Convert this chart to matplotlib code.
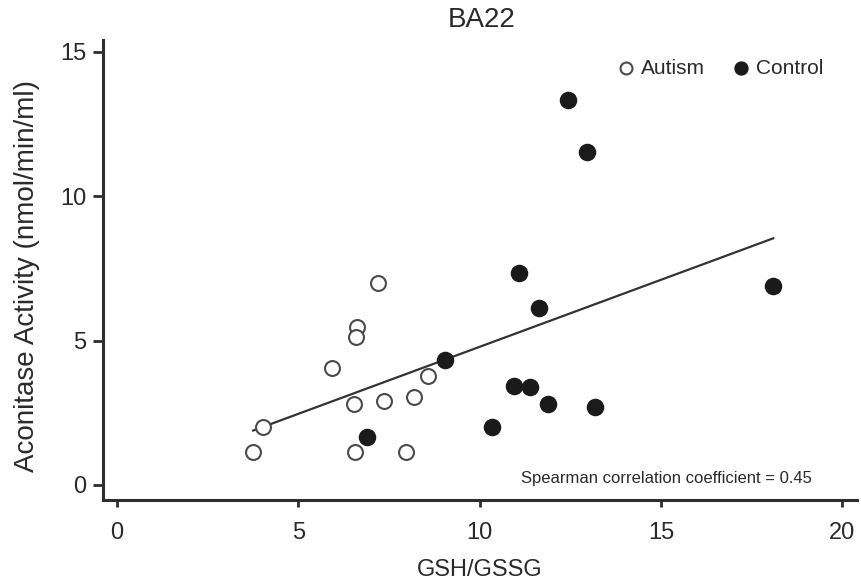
import numpy as np
import matplotlib
matplotlib.use("Agg")
import matplotlib.pyplot as plt

# Data
autism_x = [3.75, 4.03, 5.93, 7.19, 6.60, 6.58, 6.52, 6.55, 7.35, 8.18, 8.57, 7.97]
autism_y = [1.15, 2.02, 4.04, 6.99, 5.48, 5.12, 2.80, 1.15, 2.89, 3.06, 3.78, 1.13]
control_x = [6.90, 9.03, 11.09, 11.62, 10.94, 11.39, 11.89, 13.18, 10.34, 18.09, 12.42, 12.96]
control_y = [1.65, 4.33, 7.33, 6.12, 3.44, 3.38, 2.81, 2.69, 2.02, 6.89, 13.31, 11.51]
x_ticks = [0, 5, 10, 15, 20]
y_ticks = [0, 5, 10, 15]
title = "BA22"
xlabel = "GSH/GSSG"
ylabel = "Aconitase Activity (nmol/min/ml)"
annotation = "Spearman correlation coefficient = 0.45"

plt.rcParams['font.family'] = ['Liberation Sans', 'DejaVu Sans']

W, H = 861, 583
fig = plt.figure(figsize=(W / 100, H / 100), dpi=100)
L, R, T, B = 103, 857, 40, 500
ax = fig.add_axes([L / W, 1 - B / H, (R - L) / W, (B - T) / H])

axis_col = '#2e2e2e'
text_col = '#2a2a2a'
ax.scatter(autism_x, autism_y, s=115, facecolors='white', edgecolors='#4a4a4a',
           linewidths=1.5, zorder=3, label='Autism')
ax.scatter(control_x, control_y, s=135, facecolors='#1a1a1a', edgecolors='#1a1a1a',
           linewidths=1.0, zorder=3, label='Control')

all_x = np.array(autism_x + control_x)
all_y = np.array(autism_y + control_y)
b, a = np.polyfit(all_x, all_y, 1)
xl = np.array([all_x.min(), all_x.max()])
ax.plot(xl, a + b * xl, color='#333333', lw=1.6, zorder=2)

ax.set_xlim(-0.39, 20.4)
ax.set_ylim(-0.52, 15.4)
ax.set_xticks(x_ticks)
ax.set_yticks(y_ticks)
for s in ['top', 'right']:
    ax.spines[s].set_visible(False)
for s in ['left', 'bottom']:
    ax.spines[s].set_linewidth(2.2)
    ax.spines[s].set_color(axis_col)
ax.tick_params(axis='x', direction='out', length=5, width=2, color=axis_col,
               labelsize=17, labelcolor=text_col, pad=11)
ax.tick_params(axis='y', direction='out', length=7, width=2, color=axis_col,
               labelsize=17, labelcolor=text_col, pad=5)

ax.set_xlabel(xlabel, fontsize=17, color=text_col)
ax.xaxis.label.set_va('center')
ax.xaxis.set_label_coords(0.5, (B - 570) / (B - T))
ax.set_ylabel(ylabel, fontsize=20, color=text_col)
ax.yaxis.label.set_va('center')
ax.yaxis.set_label_coords((27 - L) / (R - L), (B - 276) / (B - T))

fig.text(482 / W, 1 - 20 / H, title, fontsize=20, ha='center', va='center', color=text_col)

ax.text((812 - L) / (R - L), (B - 478) / (B - T), annotation, transform=ax.transAxes,
        fontsize=12, ha='right', va='center', color=text_col)

leg = ax.legend(loc='center right', bbox_to_anchor=((823 - L) / (R - L), (B - 68) / (B - T)),
                ncol=2, frameon=False, fontsize=15, handlelength=0.8, handletextpad=0.32,
                columnspacing=1.33, markerscale=0.8, borderpad=0, borderaxespad=0)
for t in leg.get_texts():
    t.set_color(text_col)

fig.savefig('out.png', dpi=100)
